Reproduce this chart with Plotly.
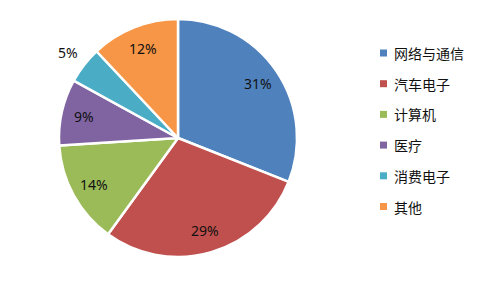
import math
import plotly.graph_objects as go

labels = ["网络与通信", "汽车电子", "计算机", "医疗", "消费电子", "其他"]
values = [31, 29, 14, 9, 5, 12]
colors = ["#4F81BD", "#C0504D", "#9BBB59", "#8064A2", "#4BACC6", "#F79646"]
label_outside = [False, False, False, False, True, False]

W, H = 489, 283
CX, CY, R = 178, 138, 119  # pixel geometry of the pie

fig = go.Figure()
fig.add_trace(go.Pie(
    labels=labels, values=values, sort=False, direction="clockwise", rotation=0,
    marker=dict(colors=colors, line=dict(color="white", width=2.5)),
    textinfo="none", hoverinfo="label+percent",
    showlegend=False,
    domain=dict(x=[(CX - R) / W, (CX + R) / W], y=[(H - CY - R) / H, (H - CY + R) / H]),
))

# percentage labels placed at each slice's mid-angle
total = sum(values)
cum = 0
for v, outside in zip(values, label_outside):
    mid = (cum + v / 2) / total * 2 * math.pi
    cum += v
    rr = R * (1.17 if outside else 0.81)
    px = CX + rr * math.sin(mid)
    py = CY - rr * math.cos(mid)
    fig.add_annotation(xref="paper", yref="paper", x=px / W, y=1 - py / H,
                       text=f"{round(v / total * 100)}%", showarrow=False,
                       xanchor="center", yanchor="middle",
                       font=dict(size=14, color="#111111", family="Noto Sans"))

# manual legend built from the data arrays
y0 = 1 - 53 / H
dy = 30.7 / H
for i, (lab, col) in enumerate(zip(labels, colors)):
    yc = y0 - i * dy
    fig.add_shape(type="rect", xref="paper", yref="paper",
                  x0=380 / W, x1=387 / W, y0=yc - 3.5 / H, y1=yc + 3.5 / H,
                  fillcolor=col, line=dict(width=0))
    fig.add_annotation(xref="paper", yref="paper", x=392 / W, y=yc, text=lab,
                       showarrow=False, xanchor="left", yanchor="middle",
                       font=dict(size=14, color="#111111", family="Noto Sans CJK SC"))

fig.update_layout(width=W, height=H, margin=dict(l=0, r=0, t=0, b=0),
                  paper_bgcolor="white", plot_bgcolor="white")
fig.write_html("out.html")
